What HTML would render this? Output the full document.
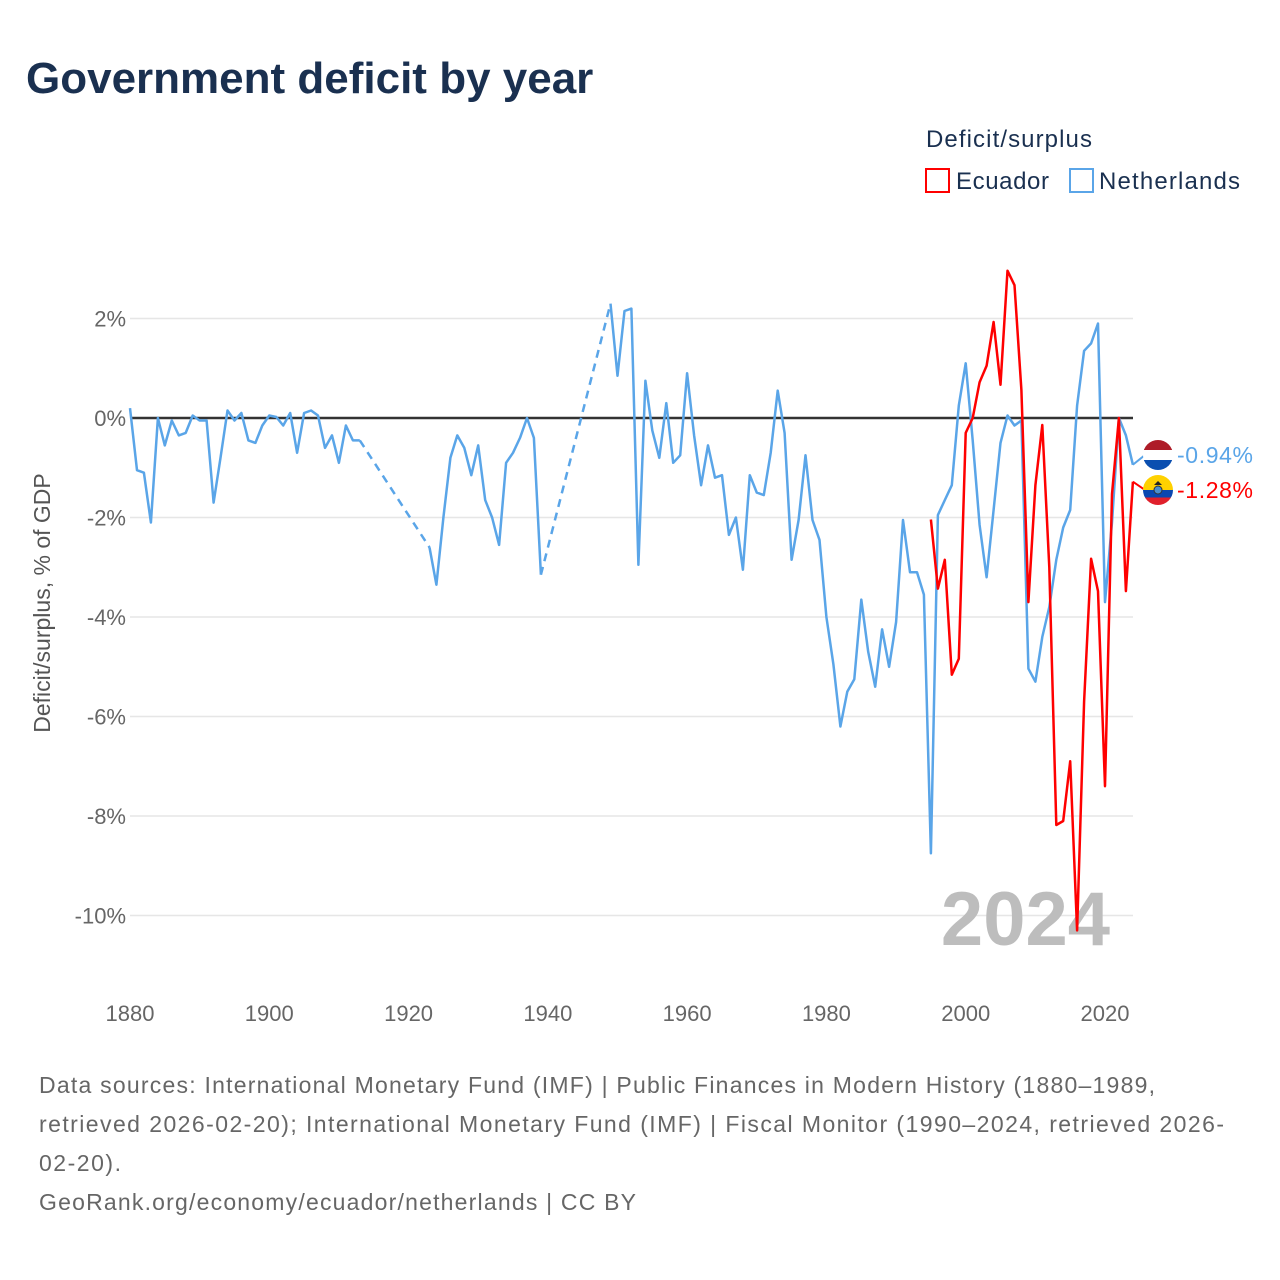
<!DOCTYPE html>
<html><head><meta charset="utf-8">
<style>
body{margin:0;background:#fff;font-family:"Liberation Sans",sans-serif;}
#wrap{position:relative;width:1280px;height:1280px;overflow:hidden;}
</style></head>
<body>
<div id="wrap">
<svg id="chart" width="1280" height="1280" xmlns="http://www.w3.org/2000/svg">
<text x="26" y="93" font-size="44" font-weight="bold" fill="#1a3050">Government deficit by year</text>
<text x="926" y="147" font-size="24" fill="#1a3050" textLength="166" lengthAdjust="spacing">Deficit/surplus</text>
<g><rect x="926" y="169" width="23" height="23" fill="none" stroke="#ff0000" stroke-width="2"/><text x="956" y="189" font-size="24" fill="#1a3050" textLength="93" lengthAdjust="spacing">Ecuador</text></g>
<g><rect x="1070" y="169" width="23" height="23" fill="none" stroke="#5aa5e8" stroke-width="2"/><text x="1099" y="189" font-size="24" fill="#1a3050" textLength="141" lengthAdjust="spacing">Netherlands</text></g>
<text transform="translate(50,603) rotate(-90)" text-anchor="middle" font-size="23" fill="#555">Deficit/surplus, % of GDP</text>
<g id="grid"></g>
<text x="1110" y="945" text-anchor="end" font-size="76" font-weight="bold" fill="#bdbdbd">2024</text>
<g id="series"></g>
<g id="endlabels"></g>
<text x="39" y="1093" font-size="23" fill="#666" textLength="1116" lengthAdjust="spacing">Data sources: International Monetary Fund (IMF) | Public Finances in Modern History (1880–1989,</text>
<text x="39" y="1132" font-size="23" fill="#666" textLength="1185" lengthAdjust="spacing">retrieved 2026-02-20); International Monetary Fund (IMF) | Fiscal Monitor (1990–2024, retrieved 2026-</text>
<text x="39" y="1171" font-size="23" fill="#666" textLength="82" lengthAdjust="spacing">02-20).</text>
<text x="39" y="1210" font-size="23" fill="#666" textLength="597" lengthAdjust="spacing">GeoRank.org/economy/ecuador/netherlands | CC BY</text>
</svg>
</div>
<script>
const yTicks=[2,0,-2,-4,-6,-8,-10];
const xTicks=[1880,1900,1920,1940,1960,1980,2000,2020];
const nlStart=1880;
const nlValues=[0.2,-1.05,-1.1,-2.1,0,-0.55,-0.05,-0.35,-0.3,0.05,-0.05,-0.05,-1.7,-0.8,0.15,-0.05,0.1,-0.45,-0.5,-0.15,
0.05,0.02,-0.15,0.1,-0.7,0.1,0.15,0.05,-0.6,-0.35,-0.9,-0.15,-0.45,-0.45,null,null,null,null,null,null,
null,null,null,-2.6,-3.35,-2,-0.8,-0.35,-0.6,-1.15,-0.55,-1.65,-2.0,-2.55,-0.9,-0.7,-0.4,0.0,-0.4,-3.15,
null,null,null,null,null,null,null,null,null,2.3,0.85,2.15,2.2,-2.95,0.75,-0.25,-0.8,0.3,-0.9,-0.75,
0.9,-0.35,-1.35,-0.55,-1.2,-1.15,-2.35,-2.0,-3.05,-1.15,-1.5,-1.55,-0.7,0.55,-0.3,-2.85,-2.05,-0.75,-2.05,-2.45,
-4.0,-4.95,-6.2,-5.5,-5.25,-3.65,-4.7,-5.4,-4.25,-5.0,-4.1,-2.05,-3.1,-3.1,-3.55,-8.75,-1.95,-1.65,-1.35,0.25,
1.1,-0.45,-2.15,-3.2,-1.85,-0.5,0.05,-0.15,-0.05,-5.04,-5.3,-4.4,-3.8,-2.85,-2.2,-1.85,0.25,1.35,1.5,1.9,
-3.7,-2.1,0.0,-0.35,-0.94];
const ecStart=1995;
const ecValues=[-2.04,-3.43,-2.85,-5.16,-4.84,-0.3,0.0,0.72,1.05,1.93,0.67,2.96,2.67,0.56,-3.7,-1.35,-0.14,-3.0,-8.18,-8.1,
-6.9,-10.3,-5.7,-2.83,-3.48,-7.4,-1.53,0.0,-3.48,-1.28];
const X0=130,X1=1133;
function xs(yr){return 130+(yr-1880)*(975/140);}
function ys(v){return 418-v*49.75;}
const NS='http://www.w3.org/2000/svg';
function mk(tag,attrs,parent){const e=document.createElementNS(NS,tag);for(const k in attrs)e.setAttribute(k,attrs[k]);parent.appendChild(e);return e;}
const grid=document.getElementById('grid');
yTicks.forEach(t=>{
 const l=mk('line',{x1:X0,x2:X1,y1:ys(t),y2:ys(t),stroke:t===0?'#333':'#e6e6e6','stroke-width':t===0?2.5:1.5},grid);
 
 
 const tx=mk('text',{x:126,y:ys(t)+8,'text-anchor':'end','font-size':22,fill:'#666'},grid);
 tx.textContent=t+'%';
 
 
});
xTicks.forEach(t=>{
 const tx=mk('text',{x:xs(t),y:1021,'text-anchor':'middle','font-size':22,fill:'#666'},grid);
 tx.textContent=t;
 
 
});
const ser=document.getElementById('series');
function drawSeries(start,vals,color,name){
 let solid='',dashed='',prev=null,pen=false;
 vals.forEach((v,i)=>{
  if(v===null){pen=false;return;}
  const x=xs(start+i).toFixed(1),y=ys(v).toFixed(1);
  if(prev && prev.i!==i-1){dashed+='M'+prev.x+','+prev.y+'L'+x+','+y;}
  solid+=(pen?'L':'M')+x+','+y;pen=true;prev={i,x,y};
 });
 const p=mk('path',{d:solid,fill:'none',stroke:color,'stroke-width':2.5,'stroke-linejoin':'round'},ser);
 
 
 if(dashed){const d=mk('path',{d:dashed,fill:'none',stroke:color,'stroke-width':2.5,'stroke-dasharray':'8,6'},ser);
 
 }
}
drawSeries(nlStart,nlValues,'#5aa5e8','netherlands');
drawSeries(ecStart,ecValues,'#ff0000','ecuador');
const el=document.getElementById('endlabels');
function endLabel(v,color,name,ly,flag){
 const x=xs(2024),y=ys(v);
 mk('line',{x1:x,x2:1145,y1:y,y2:ly,stroke:color,'stroke-width':2},el);
 const g=mk('g',{},el);
 
 
 g.innerHTML=flag(1158,ly);
 const t=mk('text',{x:1177,y:ly+8,'font-size':23,fill:color,textLength:76,lengthAdjust:'spacing'},el);
 t.textContent=v.toFixed(2)+'%';
 
 
}
endLabel(nlValues[nlValues.length-1],'#5aa5e8','netherlands',455,(cx,cy)=>`<clipPath id="cn"><ellipse cx="${cx}" cy="${cy}" rx="15" ry="15"/></clipPath><g clip-path="url(#cn)"><rect x="${cx-15}" y="${cy-15}" width="30" height="10" fill="#ae1c28"/><rect x="${cx-15}" y="${cy-5}" width="30" height="10" fill="#fff"/><rect x="${cx-15}" y="${cy+5}" width="30" height="10" fill="#0b4fb0"/></g>`);
endLabel(ecValues[ecValues.length-1],'#ff0000','ecuador',490,(cx,cy)=>`<clipPath id="ce"><ellipse cx="${cx}" cy="${cy}" rx="15" ry="15"/></clipPath><g clip-path="url(#ce)"><rect x="${cx-15}" y="${cy-15}" width="30" height="15" fill="#ffd100"/><rect x="${cx-15}" y="${cy}" width="30" height="7.5" fill="#0a47b0"/><rect x="${cx-15}" y="${cy+7.5}" width="30" height="7.5" fill="#e0202c"/><circle cx="${cx}" cy="${cy}" r="4" fill="#4a8fd0" stroke="#333" stroke-width="1"/><path d="M${cx-4},${cy-5} L${cx},${cy-9} L${cx+4},${cy-5}Z" fill="#222"/></g>`);
</script>
</body></html>
